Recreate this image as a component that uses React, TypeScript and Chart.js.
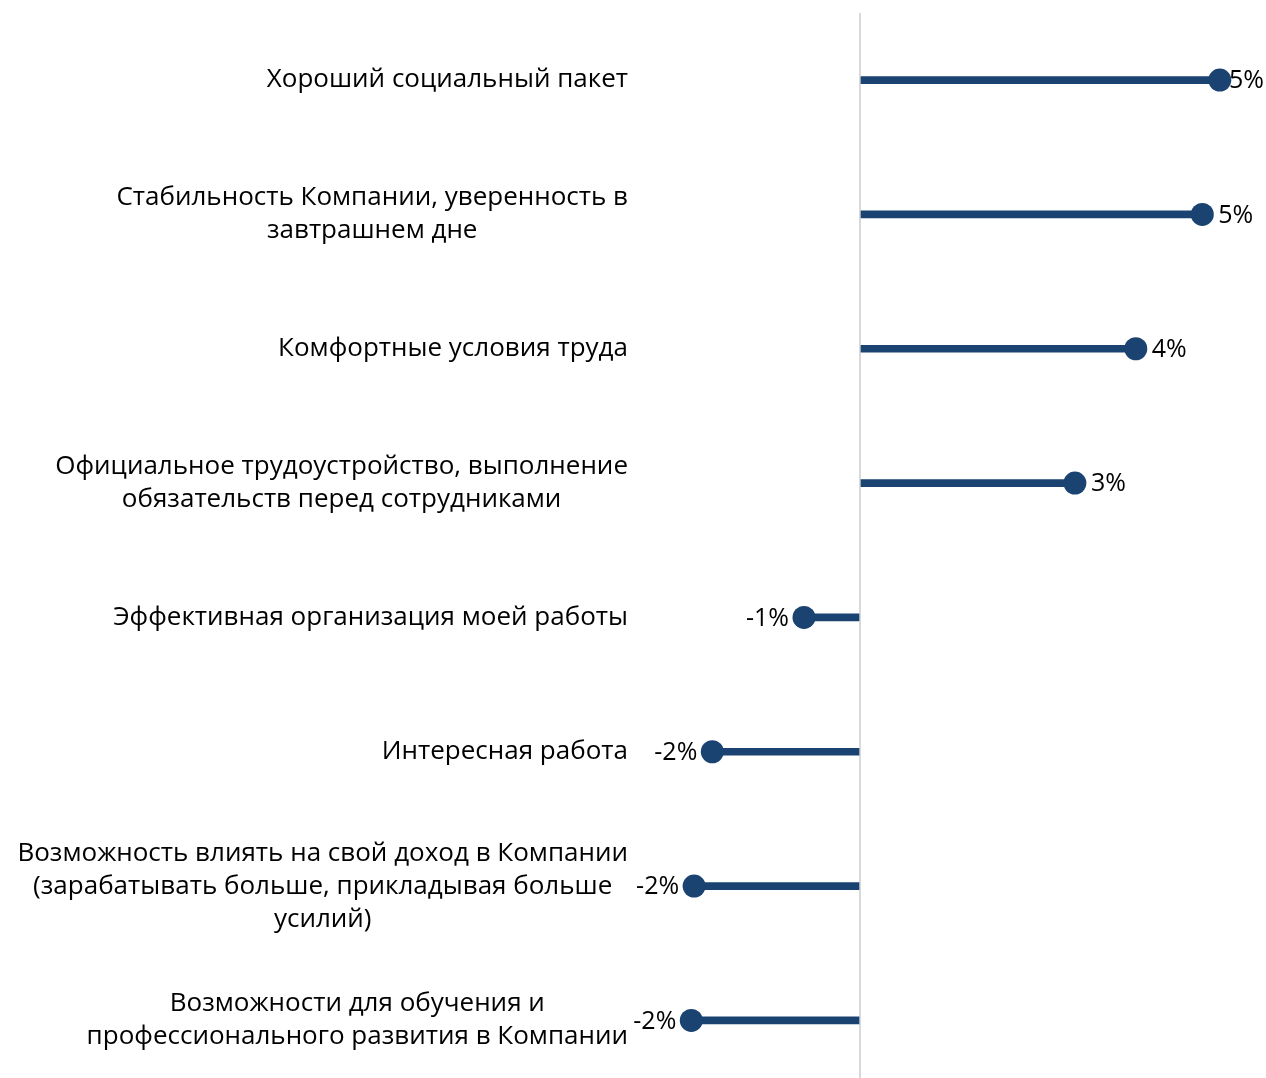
import React, { useEffect, useRef } from "react";
import { Chart, registerables } from "chart.js";

Chart.register(...registerables);

// Motivation factors (category labels, broken into display lines)
const categories: string[][] = [
  ["Хороший социальный пакет"],
  ["Стабильность Компании, уверенность в", "завтрашнем дне"],
  ["Комфортные условия труда"],
  ["Официальное трудоустройство, выполнение", "обязательств перед сотрудниками"],
  ["Эффективная организация моей работы"],
  ["Интересная работа"],
  [
    "Возможность влиять на свой доход в Компании",
    "(зарабатывать больше, прикладывая больше",
    "усилий)",
  ],
  ["Возможности для обучения и", "профессионального развития в Компании"],
];

// Change, percentage points
const changeValues: number[] = [5.14, 4.89, 3.94, 3.07, -0.8, -2.11, -2.37, -2.41];

// Value axis range
const axisMin = -3;
const axisMax = 5.8;

const NAVY = "#1a4371";
const FONT = "'Open Sans', 'Noto Sans', sans-serif";
const LABEL_FONT_SIZE = 26;
const VALUE_FONT_SIZE = 25;
const LINE_HEIGHT = 33;

const formatPct = (v: number) => `${Math.round(v)}%`;

// Category labels: each block right-aligned against the plot, its lines centred
const categoryLabelPlugin = {
  id: "categoryLabels",
  afterDraw(chart: any) {
    const { ctx, chartArea, scales } = chart;
    const yScale = scales.y;
    const rightEdge = chartArea.left - 22;
    ctx.save();
    ctx.font = `${LABEL_FONT_SIZE}px ${FONT}`;
    ctx.fillStyle = "#000000";
    ctx.textAlign = "center";
    ctx.textBaseline = "middle";
    categories.forEach((lines, i) => {
      const cy = yScale.getPixelForValue(i);
      const blockWidth = Math.max(...lines.map((l) => ctx.measureText(l).width));
      const cx = rightEdge - blockWidth / 2;
      lines.forEach((line, j) => {
        const y = cy + (j - (lines.length - 1) / 2) * LINE_HEIGHT;
        ctx.fillText(line, cx, y);
      });
    });
    ctx.restore();
  },
};

// Value labels beside each dot
const valueLabelPlugin = {
  id: "valueLabels",
  afterDatasetsDraw(chart: any) {
    const { ctx, scales } = chart;
    const xScale = scales.x;
    const yScale = scales.y;
    const canvasWidth = chart.width;
    ctx.save();
    ctx.font = `${VALUE_FONT_SIZE}px ${FONT}`;
    ctx.fillStyle = "#000000";
    ctx.textBaseline = "middle";
    changeValues.forEach((v, i) => {
      const x = xScale.getPixelForValue(v);
      const y = yScale.getPixelForValue(i);
      const text = formatPct(v);
      const w = ctx.measureText(text).width;
      if (v >= 0) {
        const start = Math.min(x + 16, canvasWidth - 2 - w);
        ctx.textAlign = "left";
        ctx.fillText(text, start, y + 1);
      } else {
        ctx.textAlign = "right";
        ctx.fillText(text, x - 15, y + 1);
      }
    });
    ctx.restore();
  },
};

export default function App() {
  const canvasRef = useRef<HTMLCanvasElement | null>(null);

  useEffect(() => {
    if (!canvasRef.current) return;
    const chart = new Chart(canvasRef.current, {
      type: "bar",
      data: {
        labels: categories.map((c) => c.join(" ")),
        datasets: [
          {
            type: "line",
            data: changeValues,
            showLine: false,
            pointRadius: 11.5,
            pointHoverRadius: 11.5,
            pointBackgroundColor: NAVY,
            pointBorderWidth: 0,
            borderColor: NAVY,
            order: 0,
            clip: false,
          } as any,
          {
            type: "bar",
            data: changeValues,
            backgroundColor: NAVY,
            barThickness: 7,
            order: 1,
            clip: false,
          } as any,
        ],
      },
      options: {
        indexAxis: "y",
        animation: false,
        responsive: false,
        maintainAspectRatio: false,
        events: [],
        layout: {
          autoPadding: false,
          padding: { left: 650, right: 0, top: 12.9, bottom: 12.4 },
        },
        plugins: {
          legend: { display: false },
          tooltip: { enabled: false },
        },
        scales: {
          x: {
            type: "linear",
            min: axisMin,
            max: axisMax,
            ticks: { display: false, stepSize: 1 },
            border: { display: false },
            grid: {
              drawTicks: false,
              lineWidth: 2,
              color: (c: any) => (c.tick && c.tick.value === 0 ? "#d9d9d9" : "rgba(0,0,0,0)"),
            },
          },
          y: {
            type: "category",
            display: false,
            offset: true,
          },
        },
      },
      plugins: [categoryLabelPlugin, valueLabelPlugin],
    });
    return () => chart.destroy();
  }, []);

  return (
    <div
      style={{
        position: "fixed",
        left: 0,
        top: 0,
        width: 1266,
        height: 1078,
        overflow: "hidden",
        background: "#ffffff",
      }}
    >
      <canvas ref={canvasRef} width={1266} height={1100} style={{ display: "block" }} />
    </div>
  );
}
